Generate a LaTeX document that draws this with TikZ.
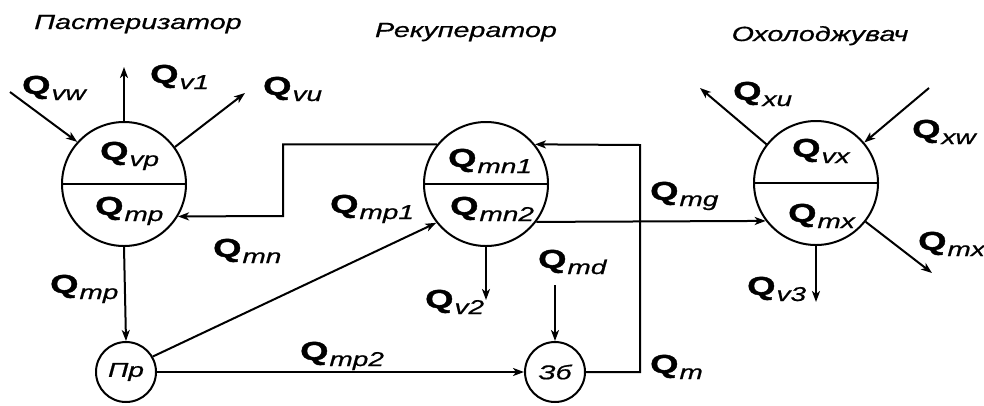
\documentclass[tikz,border=0pt]{standalone}
\usepackage{fontspec}
\setmainfont{Liberation Sans}[FakeStretch=1.4,BoldFeatures={FakeBold=1.5},ItalicFeatures={FakeBold=0.7}]
\usetikzlibrary{arrows.meta}
\newcommand{\Qf}[1]{\textbf{Q}\kern1pt\raisebox{-6pt}{\textit{\fontsize{20}{20}\selectfont #1}}}

\begin{document}
\begin{tikzpicture}[x=1pt,y=-1pt,
  every node/.style={font=\fontsize{26}{26}\selectfont},
  unit/.style={draw,circle,line width=2pt,minimum size=124pt,inner sep=0pt},
  tank/.style={draw,circle,line width=2pt,minimum size=60pt,inner sep=0pt,font=\itshape\fontsize{20}{20}\selectfont},
  flow/.style={line width=2pt,-{Stealth[length=11pt,width=8pt,inset=3pt]}},
  ttl/.style={anchor=base,font=\itshape\fontsize{20.5}{20.5}\selectfont},
  lbl/.style={anchor=base west,inner sep=0pt}]
\useasboundingbox (0,0) rectangle (984,405);
\node[unit] (past) at (124,184) {};
\node[unit] (recup) at (486,184) {};
\node[unit] (cool) at (816,183) {};
\node[tank] (pr) at (126,372) {Пр};
\node[tank] (zb) at (555,372) {Зб};
\draw[line width=2pt] (past.west) -- (past.east);
\draw[line width=2pt] (recup.west) -- (recup.east);
\draw[line width=2pt] (cool.west) -- (cool.east);
\node[ttl] (tpast) at (138,29) {Пастеризатор};
\node[ttl] (trecup) at (466,37) {Рекуператор};
\node[ttl] (tcool) at (820,41) {Охолоджувач};
\coordinate (vwstart) at (10,92);
\coordinate (v1end) at (124,67);
\coordinate (vuend) at (245,93);
\coordinate (mnbend) at (283,216);
\coordinate (mdstart) at (555,285);
\coordinate (v2end) at (486,300);
\coordinate (mbend) at (640,145);
\coordinate (xuend) at (700,88);
\coordinate (xwstart) at (929,88);
\coordinate (mxend) at (932,273);
\coordinate (v3end) at (816,302);
\draw[flow] (vwstart) -- (past.138);
\draw[flow] (past.north) -- (v1end);
\draw[flow] (past.36) -- (vuend);
\draw[flow] (past.south) -- (pr.north);
\draw[flow] (recup.141) -| (mnbend) -- (past.-31);
\draw[flow] (pr.30) -- (recup.218);
\draw[flow] (pr.east) -- (zb.west);
\draw[flow] (mdstart) -- (zb.north);
\draw[flow] (recup.south) -- (v2end);
\draw[flow] (zb.east) -| (mbend) -- (recup.39);
\draw[flow] (recup.-37) -- (cool.-143);
\draw[flow] (cool.142) -- (xuend);
\draw[flow] (xwstart) -- (cool.40);
\draw[flow] (cool.-38) -- (mxend);
\draw[flow] (cool.south) -- (v3end);
\node[lbl] (lvw) at (22,94) {\Qf{vw}};
\node[lbl] (lv1) at (150,83) {\Qf{v1}};
\node[lbl] (lvu) at (263,95) {\Qf{vu}};
\node[lbl] (lvp) at (100,160) {\Qf{vp}};
\node[lbl] (lmpin) at (95,215) {\Qf{mp}};
\node[lbl] (lmn) at (213,257) {\Qf{mn}};
\node[lbl] (lmp) at (50,293) {\Qf{mp}};
\node[lbl] (lmn1) at (448,167) {\Qf{mn1}};
\node[lbl] (lmn2) at (450,215) {\Qf{mn2}};
\node[lbl] (lmp1) at (330,213) {\Qf{mp1}};
\node[lbl] (lv2) at (425,308) {\Qf{v2}};
\node[lbl] (lmd) at (538,268) {\Qf{md}};
\node[lbl] (lmp2) at (300,360) {\Qf{mp2}};
\node[lbl] (lm) at (650,373) {\Qf{m}};
\node[lbl] (lmg) at (650,200) {\Qf{mg}};
\node[lbl] (lvx) at (792,157) {\Qf{vx}};
\node[lbl] (lmxin) at (788,222) {\Qf{mx}};
\node[lbl] (lmx) at (918,250) {\Qf{mx}};
\node[lbl] (lv3) at (747,295) {\Qf{v3}};
\node[lbl] (lxu) at (733,100) {\Qf{xu}};
\node[lbl] (lxw) at (912,138) {\Qf{xw}};
\end{tikzpicture}
\end{document}
